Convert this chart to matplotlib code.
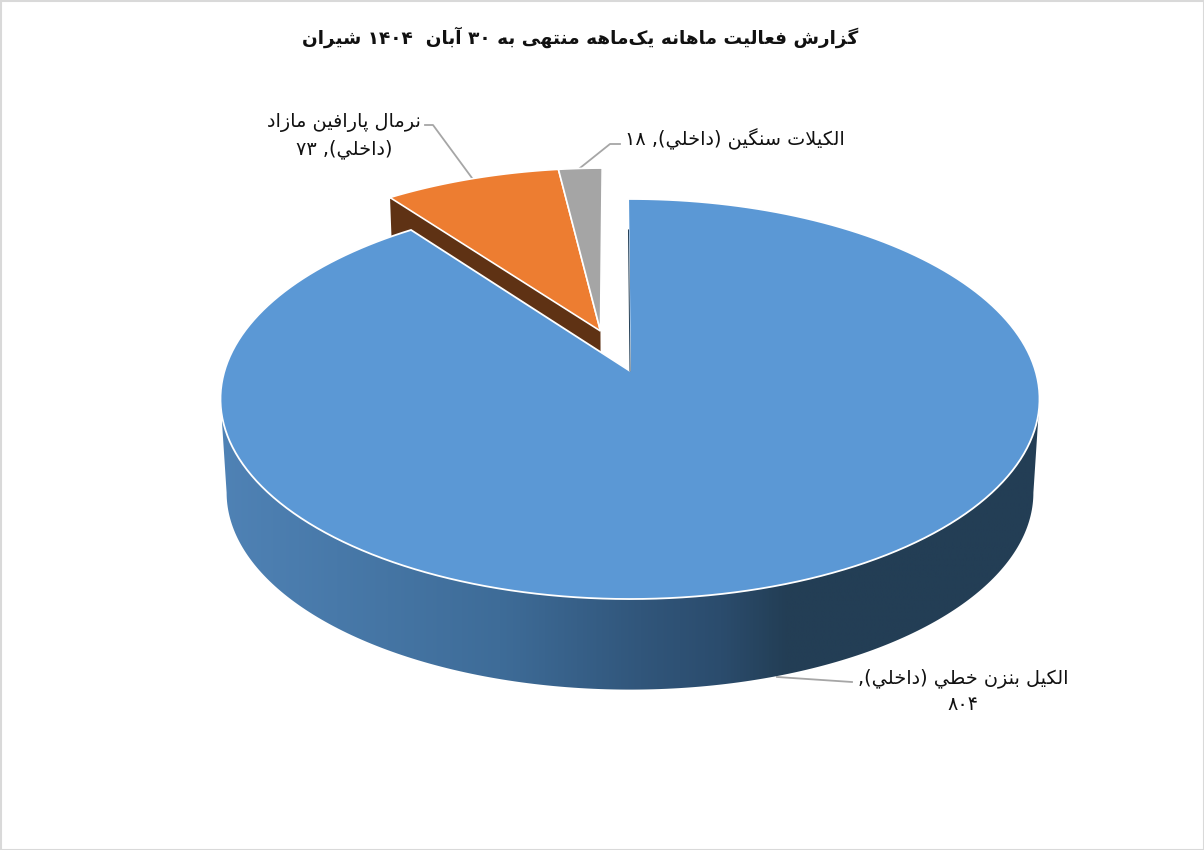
import re

import matplotlib
matplotlib.use('Agg')
import matplotlib.pyplot as plt
import numpy as np
from matplotlib.colors import LinearSegmentedColormap
from matplotlib.patches import Polygon, Rectangle

title = 'گزارش فعالیت ماهانه یک\u200cماهه منتهی به ۳۰ آبان  ۱۴۰۴ شیران'
names = ['الكيل بنزن خطي (داخلي)', 'نرمال پارافين مازاد (داخلي)', 'الكيلات سنگين (داخلي)']
values = [804, 73, 18]
colors = ['#5b98d5', '#ed7d31', '#a5a5a5']

# isolated, final, initial, medial
forms = {
    'ا': (0xFE8D, 0xFE8E), 'آ': (0xFE81, 0xFE82), 'د': (0xFEA9, 0xFEAA), 'ر': (0xFEAD, 0xFEAE),
    'ز': (0xFEAF, 0xFEB0), 'و': (0xFEED, 0xFEEE),
    'ب': (0xFE8F, 0xFE90, 0xFE91, 0xFE92), 'پ': (0xFB56, 0xFB57, 0xFB58, 0xFB59),
    'ت': (0xFE95, 0xFE96, 0xFE97, 0xFE98), 'خ': (0xFEA5, 0xFEA6, 0xFEA7, 0xFEA8),
    'س': (0xFEB1, 0xFEB2, 0xFEB3, 0xFEB4), 'ش': (0xFEB5, 0xFEB6, 0xFEB7, 0xFEB8),
    'ط': (0xFEC1, 0xFEC2, 0xFEC3, 0xFEC4), 'ع': (0xFEC9, 0xFECA, 0xFECB, 0xFECC),
    'ف': (0xFED1, 0xFED2, 0xFED3, 0xFED4), 'ك': (0xFED9, 0xFEDA, 0xFEDB, 0xFEDC),
    'ک': (0xFB8E, 0xFB8F, 0xFB90, 0xFB91), 'گ': (0xFB92, 0xFB93, 0xFB94, 0xFB95),
    'ل': (0xFEDD, 0xFEDE, 0xFEDF, 0xFEE0), 'م': (0xFEE1, 0xFEE2, 0xFEE3, 0xFEE4),
    'ن': (0xFEE5, 0xFEE6, 0xFEE7, 0xFEE8), 'ه': (0xFEE9, 0xFEEA, 0xFEEB, 0xFEEC),
    'ي': (0xFEF1, 0xFEF2, 0xFEF3, 0xFEF4), 'ی': (0xFBFC, 0xFBFD, 0xFBFE, 0xFBFF),
}


def shape(text):
    # matplotlib does no arabic shaping, so pick the joined forms by hand
    out = []
    i = 0
    while i < len(text):
        c = text[i]
        if c == '\u200c':
            i += 1
            continue
        if c not in forms:
            out.append(c)
            i += 1
            continue
        prev = text[i - 1] if i > 0 else ' '
        joins_prev = prev in forms and len(forms[prev]) == 4
        if c == 'ل' and i + 1 < len(text) and text[i + 1] == 'ا':
            out.append(chr(0xFEFC if joins_prev else 0xFEFB))
            i += 2
            continue
        nxt = text[i + 1] if i + 1 < len(text) else ' '
        joins_next = nxt in forms and len(forms[c]) == 4
        f = forms[c]
        if joins_prev and joins_next:
            out.append(chr(f[3]))
        elif joins_prev:
            out.append(chr(f[1]))
        elif joins_next:
            out.append(chr(f[2]))
        else:
            out.append(chr(f[0]))
        i += 1
    s = ''.join(out)[::-1]
    s = s.translate(str.maketrans('()', ')('))
    return re.sub('[۰-۹]+', lambda m: m.group(0)[::-1], s)


def fa_num(v):
    return str(v).translate(str.maketrans('0123456789', '۰۱۲۳۴۵۶۷۸۹'))


# perspective of the pie plane, in pixels
cx, cy = 630, 371
A, B, k = 405.5, 196.1, 0.14
bottom_scale, bottom_y = 0.985, 465
start_angle = -0.3
explode = [(0.0, 0.0), (-0.075, 0.21), (-0.075, 0.21)]


def project(X, Y, bottom=False):
    w = 1 + k * Y
    s = bottom_scale if bottom else 1.0
    y0 = bottom_y if bottom else cy
    return cx + s * A * X / w, y0 - s * B * Y / w


def rim(t0, t1, off, bottom=False, n=200):
    t = np.radians(np.linspace(t0, t1, n))
    x, y = project(np.sin(t) + off[0], np.cos(t) + off[1], bottom)
    return np.column_stack([x, y])


def wedge(t0, t1, off, bottom=False):
    apex = np.array(project(off[0], off[1], bottom))
    return np.vstack([apex, rim(t0, t1, off, bottom)])


def edge_quad(angle, off):
    a, b = project(off[0], off[1]), project(np.sin(np.radians(angle)) + off[0], np.cos(np.radians(angle)) + off[1])
    c, d = project(np.sin(np.radians(angle)) + off[0], np.cos(np.radians(angle)) + off[1], True), project(off[0], off[1], True)
    return [a, b, c, d]


fig = plt.figure(figsize=(12.04, 8.5), dpi=100)
ax = fig.add_axes([0, 0, 1, 1])
plt.rcParams['font.family'] = 'DejaVu Sans'

angles = start_angle + np.concatenate([[0], np.cumsum(values)]) * 360 / sum(values)

# cut side of the pulled out slices, the big slice hides most of it
ax.add_patch(Polygon(edge_quad(angles[1], explode[1]), closed=True, fc='#5f3214', ec='none', zorder=1))

for i in [1, 2]:
    ax.add_patch(Polygon(wedge(angles[i], angles[i + 1], explode[i]), closed=True,
                         fc=colors[i], ec='white', lw=1.2, zorder=2))

# round side of the big slice
t_side = np.degrees(np.arccos(-k))
side = np.vstack([rim(t_side, 360 - t_side, explode[0]), rim(360 - t_side, t_side, explode[0], True)])
side_patch = Polygon(side, closed=True, fc='none', ec='none', transform=ax.transData)
ax.add_patch(side_patch)
cmap = LinearSegmentedColormap.from_list('side', [(0.0, '#4f82b5'), (0.34, '#3e6c98'), (0.51, '#31567b'),
                                                  (0.61, '#2b4c6d'), (0.69, '#233e55'), (1.0, '#233e55')])
im = ax.imshow(np.linspace(0, 1, 512).reshape(1, -1), cmap=cmap, extent=(222, 1041, 700, 390),
               aspect='auto', zorder=3)
im.set_clip_path(side_patch)

ax.add_patch(Polygon(wedge(angles[0], angles[1], explode[0]), closed=True,
                     fc=colors[0], ec='white', lw=1.3, zorder=4))
# sliver of the cut face next to the gap
x0, y0 = project(np.sin(np.radians(angles[0])) * 0.8, np.cos(np.radians(angles[0])) * 0.8)
ax.plot([x0, cx], [y0, cy], color='#223e55', lw=0.7, zorder=5)

# leader lines
ax.plot([852, 777], [682, 677], color='#a6a6a6', lw=1.3, zorder=2)
ax.plot([425, 433, 472], [125, 125, 178], color='#a6a6a6', lw=1.3, zorder=1.5)
ax.plot([620, 610, 580], [144, 144, 168], color='#a6a6a6', lw=1.3, zorder=1.5)

label_fs = 13.9
ax.text(963, 691, shape(names[0] + ',') + '\n' + shape(fa_num(values[0])), ha='center', va='center',
        ma='center', fontsize=label_fs, color='#111111', linespacing=1.45, zorder=6)
ax.text(344, 136, shape('نرمال پارافين مازاد') + '\n' + shape('(داخلي), ' + fa_num(values[1])), ha='center',
        va='center', ma='center', fontsize=label_fs, color='#111111', linespacing=1.5, zorder=6)
ax.text(845, 139, shape(names[2] + ', ' + fa_num(values[2])), ha='right', va='center',
        fontsize=label_fs, color='#111111', zorder=6)
ax.text(580.5, 37, shape(title), ha='center', va='center', fontsize=13.3, fontweight='bold', color='#111111')

ax.add_patch(Rectangle((0.5, 0.5), 1203, 849, fc='none', ec='#d9d9d9', lw=1.5, zorder=7))

ax.set_xlim(0, 1204)
ax.set_ylim(850, 0)
ax.axis('off')
fig.savefig('out.png', dpi=100, facecolor='white')
